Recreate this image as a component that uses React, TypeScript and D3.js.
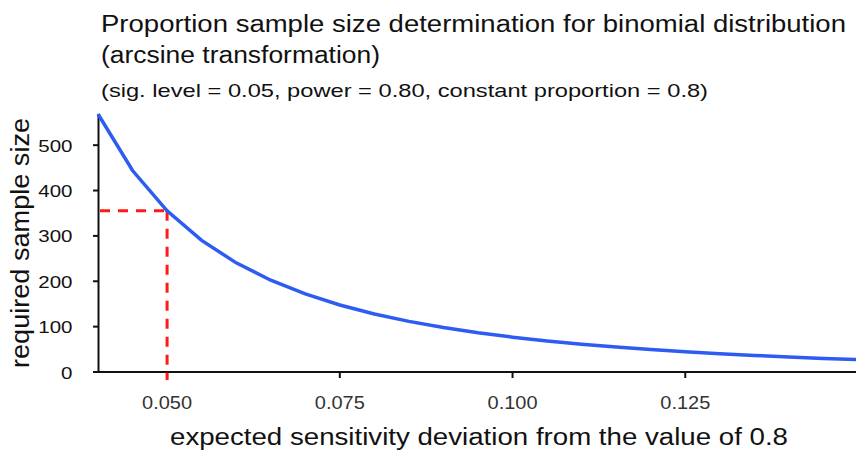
import React from "react";
import * as d3 from "d3";

const deviations = [0.04, 0.045, 0.05, 0.055, 0.06, 0.065, 0.07, 0.075, 0.08, 0.085, 0.09, 0.095, 0.1, 0.105, 0.11, 0.115, 0.12, 0.125, 0.13, 0.135, 0.14, 0.145, 0.15];
const sampleSizes = [568.7, 444.1, 355.4, 290.0, 240.6, 202.3, 172.0, 147.7, 127.9, 111.6, 98.0, 86.5, 76.8, 68.4, 61.2, 54.9, 49.4, 44.6, 40.3, 36.5, 33.1, 30.0, 27.2];
const xTicks = [0.05, 0.075, 0.1, 0.125];
const yTicks = [0, 100, 200, 300, 400, 500];
const markX = 0.05;
const markY = 355.4;

const W = 856;
const H = 450;
const FONT = "'Liberation Sans', Arial, sans-serif";

export default function App() {
  const x = d3.scaleLinear().domain([0.04, 0.15]).range([98, 858]);
  const y = d3.scaleLinear().domain([0, 568.7]).range([372, 114]);
  const pts = deviations.map((d, i) => [d, sampleSizes[i]] as [number, number]);
  const line = d3.line<[number, number]>().x(d => x(d[0])).y(d => y(d[1]));

  return (
    <svg width={W} height={H} style={{ display: "block", position: "absolute", left: 0, top: 0 }} fontFamily={FONT}>
      <rect width={W} height={H} fill="#fff" />
      <text x={101} y={32} fontSize={23} fill="#111" textLength={745} lengthAdjust="spacingAndGlyphs">Proportion sample size determination for binomial distribution</text>
      <text x={101} y={62.5} fontSize={23} fill="#111" textLength={279} lengthAdjust="spacingAndGlyphs">(arcsine transformation)</text>
      <text x={101} y={96.5} fontSize={18.5} fill="#111" textLength={607} lengthAdjust="spacingAndGlyphs">(sig. level = 0.05, power = 0.80, constant proportion = 0.8)</text>

      {/* axes */}
      <line x1={98.5} x2={98.5} y1={114} y2={373} stroke="#111" strokeWidth={2} />
      <line x1={93} x2={856} y1={372} y2={372} stroke="#111" strokeWidth={2} />
      {yTicks.map(t => (
        <g key={t}>
          <line x1={93} x2={98} y1={y(t)} y2={y(t)} stroke="#111" strokeWidth={2} />
          <text x={72.5} y={y(t) + 6.5} fontSize={16.5} textAnchor="end" fill="#111" textLength={String(t).length * 11.4} lengthAdjust="spacingAndGlyphs">{t}</text>
        </g>
      ))}
      {xTicks.map(t => (
        <g key={t}>
          <line x1={x(t)} x2={x(t)} y1={372} y2={378} stroke="#111" strokeWidth={2} />
          <text x={x(t)} y={408.5} fontSize={17.5} textAnchor="middle" fill="#333" textLength={50} lengthAdjust="spacingAndGlyphs">{d3.format(".3f")(t)}</text>
        </g>
      ))}

      {/* marker */}
      <line x1={100} x2={x(markX)} y1={y(markY)} y2={y(markY)} stroke="#ff1a1a" strokeWidth={3} strokeDasharray="10,8" />
      <line x1={x(markX)} x2={x(markX)} y1={y(markY)} y2={380} stroke="#ff1a1a" strokeWidth={3} strokeDasharray="10,8" />

      <path d={line(pts) || ""} fill="none" stroke="#2d5cf2" strokeWidth={3.5} />

      <text x={170} y={445} fontSize={23} fill="#111" textLength={618} lengthAdjust="spacingAndGlyphs">expected sensitivity deviation from the value of 0.8</text>
      <text transform="translate(29,243) rotate(-90)" fontSize={26} textAnchor="middle" fill="#111" textLength={250} lengthAdjust="spacingAndGlyphs">required sample size</text>
    </svg>
  );
}
